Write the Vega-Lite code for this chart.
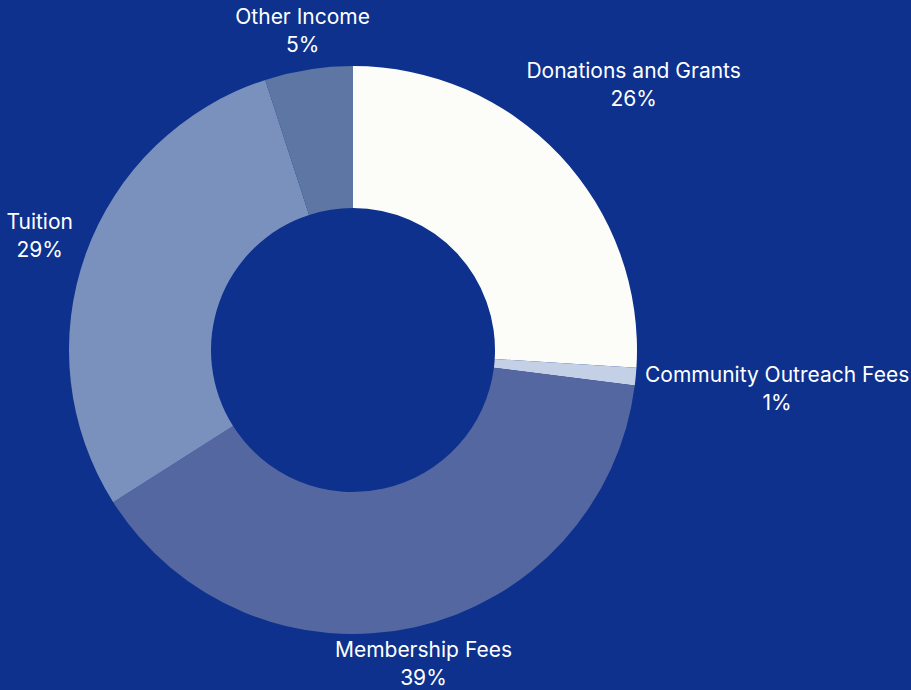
{
  "$schema": "https://vega.github.io/schema/vega-lite/v6.json",
  "width": 706,
  "height": 690,
  "autosize": {"type": "none"},
  "padding": {"left": 0, "top": 5, "right": 205, "bottom": 0},
  "background": "#0d318d",
  "config": {"view": {"stroke": null}, "text": {"font": "Inter", "fontSize": 21, "color": "#ffffff"}},
  "data": {"values": [
    {"category": "Donations and Grants", "share": 0.26, "rank": 1},
    {"category": "Community Outreach Fees", "share": 0.01, "rank": 2},
    {"category": "Membership Fees", "share": 0.39, "rank": 3},
    {"category": "Tuition", "share": 0.29, "rank": 4},
    {"category": "Other Income", "share": 0.05, "rank": 5}
  ]},
  "encoding": {
    "theta": {"field": "share", "type": "quantitative", "stack": true},
    "order": {"field": "rank", "type": "ordinal"}
  },
  "layer": [
    {
      "mark": {"type": "arc", "outerRadius": 284, "innerRadius": 142},
      "encoding": {
        "color": {
          "field": "category", "type": "nominal", "legend": null,
          "scale": {
            "domain": ["Donations and Grants", "Community Outreach Fees", "Membership Fees", "Tuition", "Other Income"],
            "range": ["#fcfdf8", "#c4d0e6", "#5567a0", "#7b91bd", "#5d76a3"]
          }
        }
      }
    },
    {
      "mark": {"type": "text", "align": "center", "baseline": "middle", "dy": -14,
        "radius": {"expr": "datum.category === 'Donations and Grants' ? 385 : datum.category === 'Community Outreach Fees' ? 426 : datum.category === 'Membership Fees' ? 323 : datum.category === 'Tuition' ? 333 : 322"}},
      "encoding": {"text": {"field": "category", "type": "nominal"}}
    },
    {
      "mark": {"type": "text", "align": "center", "baseline": "middle", "dy": 14,
        "radius": {"expr": "datum.category === 'Donations and Grants' ? 385 : datum.category === 'Community Outreach Fees' ? 426 : datum.category === 'Membership Fees' ? 323 : datum.category === 'Tuition' ? 333 : 322"}},
      "encoding": {"text": {"field": "share", "type": "quantitative", "format": ".0%"}}
    }
  ]
}
